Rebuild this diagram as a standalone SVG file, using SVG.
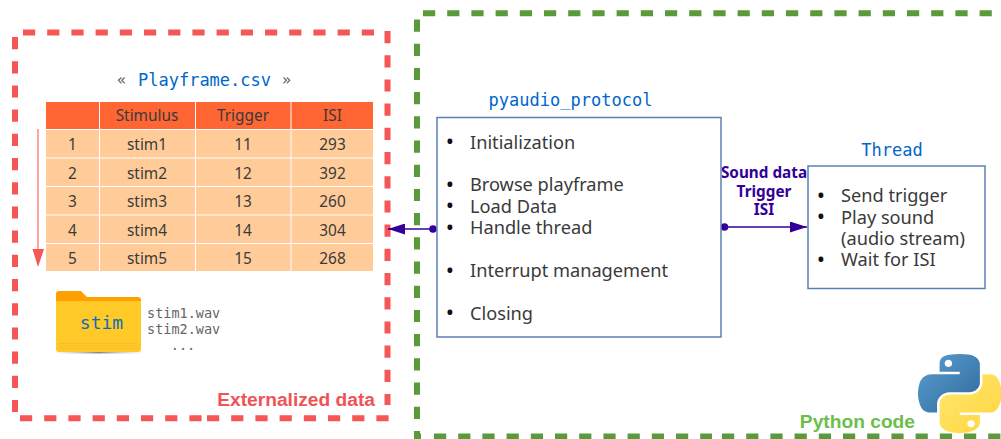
<svg xmlns="http://www.w3.org/2000/svg" width="1001" height="439" viewBox="0 0 1001 439">
<defs>
<style>
.red{fill:none;stroke:#f55656;stroke-width:6;stroke-dasharray:12.2 12}
.green{fill:none;stroke:#5a9a3a;stroke-width:6;stroke-dasharray:12.2 12}
.box{fill:#fff;stroke:#5d80b6;stroke-width:1.5}
.mono{font-family:"DejaVu Sans Mono",monospace}
.title{font-size:17px;fill:#0066cc;text-anchor:middle}
.sans{font-family:"Noto Sans",sans-serif}
.body{font-size:18.2px;fill:#3a3a3a}
.bul{font-size:22px;fill:#111}
.cell{font-size:15.4px;fill:#3a3a3a;text-anchor:middle}
.hd{fill:#ff6633}
.bd{fill:#ffcc99}
.lab{font-family:"Noto Sans",sans-serif;font-weight:700;font-size:15.3px;fill:#330099;text-anchor:middle}
.cap{font-family:"Liberation Sans",Arial,sans-serif;font-weight:700;font-size:19.2px}
.file{font-size:13.5px;fill:#666}
.conn{stroke:#330099;stroke-width:1.3;fill:none}
</style>
<linearGradient id="pb" x1="0" y1="0" x2="1" y2="1"><stop offset="0" stop-color="#5a9fd4"/><stop offset="1" stop-color="#306998"/></linearGradient>
<linearGradient id="py" x1="0" y1="0" x2="1" y2="1"><stop offset="0" stop-color="#ffe873"/><stop offset="1" stop-color="#ffd43b"/></linearGradient>
<linearGradient id="sh" x1="0" y1="0" x2="1" y2="0"><stop offset="0" stop-color="#bbb" stop-opacity="0"/><stop offset=".5" stop-color="#888"/><stop offset="1" stop-color="#bbb" stop-opacity="0"/></linearGradient>
<marker id="ah" viewBox="0 0 17 11" refX="17" refY="5.5" markerWidth="17" markerHeight="11" markerUnits="userSpaceOnUse" orient="auto"><path d="M0,0L17,5.5L0,11Z" fill="#330099"/></marker>
</defs>
<rect width="1001" height="439" fill="#fff"/>
<g id="externalized-frame">
<path class="red" d="M23,32.5H374"/>
<path class="red" d="M387.5,31V405"/>
<path class="red" d="M15,37V412"/>
<path class="red" d="M20,418.3H202"/>
<path class="red" d="M207,418.3H390"/>
<text class="cap" x="375" y="406" text-anchor="end" fill="#f05356">Externalized data</text>
</g>
<g id="python-frame">
<path class="green" d="M423,13.3H992"/>
<path class="green" d="M417,19.5V439"/>
<path class="green" d="M417,436.5H421"/>
<path class="green" d="M434,436.5H712"/>
<path class="green" d="M722,436.5H1001"/>
<text class="cap" x="915" y="428" text-anchor="end" fill="#6abf4b">Python code</text>
</g>
<g id="playframe-table">
<text x="117" y="85" class="mono" font-size="15" fill="#555">«</text>
<text x="204.500" y="86" class="mono title">Playframe.csv</text>
<text x="282" y="85" class="mono" font-size="15" fill="#555">»</text>
<rect class="hd" x="46" y="102" width="53" height="27"/><rect class="hd" x="100" y="102" width="95" height="27"/><rect class="hd" x="196" y="102" width="94.500" height="27"/><rect class="hd" x="291.500" y="102" width="81.500" height="27"/>
<rect class="bd" x="46" y="130" width="53" height="27.500"/><rect class="bd" x="100" y="130" width="95" height="27.500"/><rect class="bd" x="196" y="130" width="94.500" height="27.500"/><rect class="bd" x="291.500" y="130" width="81.500" height="27.500"/>
<rect class="bd" x="46" y="158.500" width="53" height="27.500"/><rect class="bd" x="100" y="158.500" width="95" height="27.500"/><rect class="bd" x="196" y="158.500" width="94.500" height="27.500"/><rect class="bd" x="291.500" y="158.500" width="81.500" height="27.500"/>
<rect class="bd" x="46" y="187" width="53" height="27.500"/><rect class="bd" x="100" y="187" width="95" height="27.500"/><rect class="bd" x="196" y="187" width="94.500" height="27.500"/><rect class="bd" x="291.500" y="187" width="81.500" height="27.500"/>
<rect class="bd" x="46" y="215.500" width="53" height="27.500"/><rect class="bd" x="100" y="215.500" width="95" height="27.500"/><rect class="bd" x="196" y="215.500" width="94.500" height="27.500"/><rect class="bd" x="291.500" y="215.500" width="81.500" height="27.500"/>
<rect class="bd" x="46" y="244" width="53" height="27"/><rect class="bd" x="100" y="244" width="95" height="27"/><rect class="bd" x="196" y="244" width="94.500" height="27"/><rect class="bd" x="291.500" y="244" width="81.500" height="27"/>
<g class="sans cell">
<text x="147" y="121">Stimulus</text><text x="243" y="121">Trigger</text><text x="332.500" y="121">ISI</text>
<text x="72.500" y="150">1</text><text x="147" y="150">stim1</text><text x="243" y="150">11</text><text x="332.500" y="150">293</text>
<text x="72.500" y="178.500">2</text><text x="147" y="178.500">stim2</text><text x="243" y="178.500">12</text><text x="332.500" y="178.500">392</text>
<text x="72.500" y="207">3</text><text x="147" y="207">stim3</text><text x="243" y="207">13</text><text x="332.500" y="207">260</text>
<text x="72.500" y="235.500">4</text><text x="147" y="235.500">stim4</text><text x="243" y="235.500">14</text><text x="332.500" y="235.500">304</text>
<text x="72.500" y="264">5</text><text x="147" y="264">stim5</text><text x="243" y="264">15</text><text x="332.500" y="264">268</text>
</g>
<path d="M38,129V252" stroke="#f66" stroke-width="1.2" fill="none"/>
<path d="M32.500,249H44L38,267Z" fill="#f55656"/>
</g>
<g id="stim-folder">
<rect x="52" y="351" width="93" height="2.500" fill="url(#sh)"/>
<path d="M56,294Q56,291 59,291H81L87,297H138Q141,297 141,300V310H56Z" fill="#ffa000"/>
<path d="M56,301H141V349Q141,352 138,352H59Q56,352 56,349Z" fill="#ffca28"/>
<path d="M59,343.500H138M59,346H138M59,348.500H138" stroke="#ffb82a" stroke-width="1"/>
<text x="101.500" y="329" class="mono" font-size="18" fill="#0f6cb0" text-anchor="middle">stim</text>
<text x="147" y="317.500" class="mono file">stim1.wav</text>
<text x="147" y="334" class="mono file">stim2.wav</text>
<text x="183" y="349.500" class="mono file" text-anchor="middle">...</text>
</g>
<g id="connectors">
<path class="conn" d="M433,229H388" marker-end="url(#ah)"/>
<circle cx="433" cy="229" r="3.800" fill="#330099"/>
<path class="conn" d="M724.500,227H807" marker-end="url(#ah)"/>
<circle cx="724.500" cy="227" r="3.800" fill="#330099"/>
<text class="lab" x="764" y="178">Sound data</text>
<text class="lab" x="764" y="196.500">Trigger</text>
<text class="lab" x="764" y="215">ISI</text>
</g>
<g id="pyaudio-protocol">
<text x="570.500" y="105.500" class="mono title">pyaudio_protocol</text>
<rect class="box" x="437" y="117.500" width="284" height="219.500"/>
<g class="sans">
<text class="bul" x="445.800" y="149">•</text><text class="body" x="470" y="148.500">Initialization</text>
<text class="bul" x="445.800" y="192">•</text><text class="body" x="470" y="191">Browse playframe</text>
<text class="bul" x="445.800" y="213">•</text><text class="body" x="470" y="212.500">Load Data</text>
<text class="bul" x="445.800" y="234.500">•</text><text class="body" x="470" y="234">Handle thread</text>
<text class="bul" x="445.800" y="277.500">•</text><text class="body" x="470" y="276.500">Interrupt management</text>
<text class="bul" x="445.800" y="320">•</text><text class="body" x="470" y="319.500">Closing</text>
</g>
</g>
<g id="thread">
<text x="892" y="155.500" class="mono title">Thread</text>
<rect class="box" x="808" y="166" width="177" height="122.500"/>
<g class="sans">
<text class="bul" x="816.800" y="203">•</text><text class="body" x="841" y="202">Send trigger</text>
<text class="bul" x="816.800" y="224">•</text><text class="body" x="841" y="223.500">Play sound</text>
<text class="body" x="841" y="245">(audio stream)</text>
<text class="bul" x="816.800" y="267">•</text><text class="body" x="841" y="266">Wait for ISI</text>
</g>
</g>
<g id="python-logo" transform="translate(918,354) scale(.752,.705)">
<path fill="url(#pb)" d="M54.92,0C50.34,.02 45.96,.41 42.11,1.09C30.76,3.1 28.7,7.29 28.7,15.03V25.25H55.51V28.66H28.7H18.64C10.85,28.66 4.02,33.34 1.89,42.25C-.57,52.46 -.68,58.84 1.89,69.5C3.79,77.44 8.34,83.09 16.13,83.09H25.35V70.84C25.35,61.99 33,54.19 42.11,54.19H68.89C76.34,54.19 82.29,48.05 82.29,40.56V15.03C82.29,7.77 76.16,2.31 68.89,1.09C64.28,.33 59.5,-.02 54.92,0ZM40.42,8.22C43.19,8.22 45.45,10.52 45.45,13.34C45.45,16.16 43.19,18.44 40.42,18.44C37.64,18.44 35.39,16.16 35.39,13.34C35.39,10.52 37.64,8.22 40.42,8.22Z"/>
<path fill="url(#py)" d="M85.64,28.66V40.56C85.64,49.79 77.81,57.56 68.89,57.56H42.11C34.77,57.56 28.7,63.84 28.7,71.19V96.72C28.7,103.99 35.02,108.26 42.11,110.34C50.59,112.84 58.73,113.29 68.89,110.34C75.64,108.39 82.29,104.46 82.29,96.72V86.5H55.51V83.09H82.29H95.67C103.46,83.09 106.37,77.66 109.08,69.5C111.88,61.1 111.76,53.02 109.08,42.25C107.15,34.5 103.47,28.66 95.67,28.66ZM70.61,93.81C73.39,93.81 75.64,96.09 75.64,98.91C75.64,101.73 73.39,104.03 70.61,104.03C67.84,104.03 65.58,101.73 65.58,98.91C65.58,96.09 67.84,93.81 70.61,93.81Z"/>
</g>
</svg>
